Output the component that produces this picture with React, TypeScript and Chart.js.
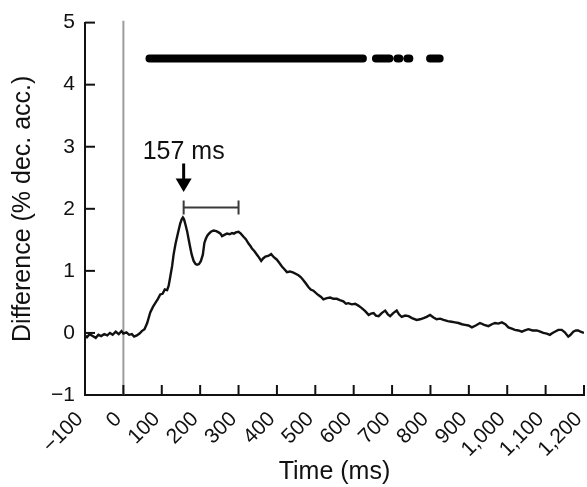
import { useEffect, useRef } from "react";
import { Chart, registerables } from "chart.js";

Chart.register(...registerables);

// ---- data ----
const TIMES = [
  -100, -95, -88, -80, -72, -65, -58, -50, -42, -35, -28, -20, -12, -5, 0, 8, 15, 22, 28, 35, 42, 48, 55, 62, 70,
  77, 83, 90, 96, 102, 108, 114, 118, 122, 127, 131, 136, 140, 144, 148, 152, 155, 158, 162, 166, 170, 174, 178,
  183, 188, 192, 197, 202, 207, 211, 215, 219, 223, 228, 235, 242, 248, 253, 257, 263, 270, 277, 283, 288, 293,
  300, 306, 313, 319, 326, 331, 335, 341, 348, 354, 359, 364, 370, 377, 385, 392, 400, 406, 413, 419, 426, 434,
  443, 450, 456, 462, 469, 475, 482, 488, 495, 502, 508, 515, 521, 530, 539, 547, 556, 564, 573, 580, 586, 595,
  604, 612, 621, 630, 639, 645, 652, 658, 665, 673, 682, 689, 695, 703, 712, 718, 725, 734, 743, 752, 764, 773,
  782, 790, 799, 808, 816, 825, 834, 845, 855, 864, 873, 882, 890, 899, 908, 918, 929, 940, 951, 960, 968, 977,
  986, 995, 1003, 1012, 1020, 1029, 1038, 1046, 1055, 1066, 1077, 1086, 1094, 1103, 1111, 1118, 1124, 1133, 1142,
  1150, 1159, 1165, 1172, 1179, 1185, 1191, 1196, 1200,
];

const DIFFERENCE = [
  -0.04, -0.07, -0.02, -0.05, -0.08, -0.03, -0.05, -0.02, -0.04, 0.0, -0.03, 0.02, -0.02, 0.03, -0.01, 0.01, -0.03,
  -0.02, -0.06, -0.04, -0.01, 0.03, 0.06, 0.16, 0.33, 0.42, 0.48, 0.55, 0.62, 0.63, 0.7, 0.69, 0.76, 0.9, 1.08,
  1.27, 1.44, 1.55, 1.66, 1.76, 1.83, 1.86, 1.83, 1.74, 1.64, 1.51, 1.38, 1.26, 1.16, 1.11, 1.1, 1.11, 1.16, 1.26,
  1.45, 1.52, 1.57, 1.6, 1.63, 1.65, 1.64, 1.62, 1.6, 1.56, 1.58, 1.6, 1.59, 1.61, 1.6, 1.62, 1.63, 1.6, 1.55,
  1.51, 1.44, 1.4, 1.36, 1.32, 1.26, 1.21, 1.16, 1.2, 1.23, 1.24, 1.27, 1.22, 1.18, 1.13, 1.07, 1.03, 0.98, 0.99,
  0.97, 0.95, 0.93, 0.9, 0.85, 0.8, 0.74, 0.7, 0.68, 0.64, 0.61, 0.58, 0.54, 0.56, 0.57, 0.55, 0.55, 0.53, 0.51,
  0.47, 0.48, 0.46, 0.47, 0.44, 0.4, 0.35, 0.29, 0.31, 0.32, 0.28, 0.27, 0.32, 0.36, 0.3, 0.27, 0.32, 0.36, 0.3,
  0.26, 0.28, 0.27, 0.24, 0.21, 0.22, 0.24, 0.26, 0.29, 0.25, 0.22, 0.23, 0.21, 0.19, 0.18, 0.17, 0.16, 0.14, 0.13,
  0.12, 0.09, 0.12, 0.16, 0.13, 0.11, 0.14, 0.16, 0.15, 0.17, 0.14, 0.09, 0.07, 0.05, 0.04, 0.02, 0.04, 0.06, 0.04,
  0.04, 0.02, 0.0, -0.01, -0.03, 0.0, 0.02, 0.05, 0.05, 0.01, -0.06, -0.03, 0.02, 0.04, 0.04, 0.02, 0.01, 0.0,
];

const X_TICKS = [-100, 0, 100, 200, 300, 400, 500, 600, 700, 800, 900, 1000, 1100, 1200];
const X_TICK_LABELS = ["−100", "0", "100", "200", "300", "400", "500", "600", "700", "800", "900", "1,000", "1,100", "1,200"];
const Y_TICKS = [-1, 0, 1, 2, 3, 4, 5];
const Y_TICK_LABELS = ["−1", "0", "1", "2", "3", "4", "5"];

// significant time runs (ms) shown as the thick bar near the top
const SIG_RUN_STARTS = [68, 658, 714, 740, 799];
const SIG_RUN_ENDS = [624, 693, 719, 745, 824];
const SIG_LEVEL = 4.42;

const ONSET_TIME = 0;
const PEAK_TIME = 157;
const PEAK_LABEL = "157 ms";
const WINDOW_START = 157;
const WINDOW_END = 300;
const WINDOW_LEVEL = 2.02;
const LABEL_LEVEL = 2.8;
const ARROW_TOP = 2.73;
const ARROW_BASE = 2.49;
const ARROW_TIP = 2.27;

const X_TITLE = "Time (ms)";
const Y_TITLE = "Difference (% dec. acc.)";

const FONT = "'Liberation Sans', Arial, Helvetica, sans-serif";

export default function App() {
  const ref = useRef<HTMLCanvasElement | null>(null);

  useEffect(() => {
    const canvas = ref.current;
    if (!canvas) return;

    const curve = TIMES.map((t, i) => ({ x: t, y: DIFFERENCE[i] }));
    const sig: { x: number; y: number | null }[] = [];
    SIG_RUN_STARTS.forEach((s, i) => {
      sig.push({ x: s, y: SIG_LEVEL });
      sig.push({ x: SIG_RUN_ENDS[i], y: SIG_LEVEL });
      sig.push({ x: SIG_RUN_ENDS[i] + 1, y: null });
    });

    const annotations = {
      id: "annotations",
      afterDatasetsDraw(chart: any) {
        const { ctx } = chart;
        const xs = chart.scales.x;
        const ys = chart.scales.y;
        ctx.save();
        // inward tick marks
        ctx.strokeStyle = "#111";
        ctx.lineWidth = 2;
        X_TICKS.forEach((v) => {
          const px = xs.getPixelForValue(v);
          ctx.beginPath();
          ctx.moveTo(px, ys.bottom);
          ctx.lineTo(px, ys.bottom - 10);
          ctx.stroke();
        });
        Y_TICKS.forEach((v) => {
          const py = ys.getPixelForValue(v);
          ctx.beginPath();
          ctx.moveTo(xs.left, py);
          ctx.lineTo(xs.left + 10, py);
          ctx.stroke();
        });

        // window bracket
        const bx1 = xs.getPixelForValue(WINDOW_START);
        const bx2 = xs.getPixelForValue(WINDOW_END);
        const by = ys.getPixelForValue(WINDOW_LEVEL);
        ctx.strokeStyle = "#3a3a3a";
        ctx.lineWidth = 2;
        ctx.beginPath();
        ctx.moveTo(bx1, by);
        ctx.lineTo(bx2, by);
        ctx.moveTo(bx1, by - 7);
        ctx.lineTo(bx1, by + 7);
        ctx.moveTo(bx2, by - 7);
        ctx.lineTo(bx2, by + 7);
        ctx.stroke();

        // arrow
        const ax = xs.getPixelForValue(PEAK_TIME);
        const aTop = ys.getPixelForValue(ARROW_TOP);
        const aBase = ys.getPixelForValue(ARROW_BASE);
        const aTip = ys.getPixelForValue(ARROW_TIP);
        ctx.strokeStyle = "#000";
        ctx.lineWidth = 3;
        ctx.beginPath();
        ctx.moveTo(ax, aTop);
        ctx.lineTo(ax, aBase + 1);
        ctx.stroke();
        ctx.fillStyle = "#000";
        ctx.beginPath();
        ctx.moveTo(ax - 8, aBase);
        ctx.lineTo(ax + 8, aBase);
        ctx.lineTo(ax, aTip);
        ctx.closePath();
        ctx.fill();

        // label
        ctx.font = `25px ${FONT}`;
        ctx.fillStyle = "#111";
        ctx.textAlign = "center";
        ctx.textBaseline = "alphabetic";
        ctx.fillText(PEAK_LABEL, ax, ys.getPixelForValue(LABEL_LEVEL));
        ctx.restore();
      },
    };

    const chart = new Chart(canvas, {
      type: "line",
      data: {
        datasets: [
          { data: curve, borderColor: "#111", borderWidth: 2.4, pointRadius: 0, tension: 0, order: 1 },
          {
            data: sig,
            borderColor: "#000",
            borderWidth: 8,
            borderCapStyle: "round",
            pointRadius: 0,
            spanGaps: false,
            tension: 0,
            order: 2,
          },
          {
            data: [
              { x: ONSET_TIME, y: -1 },
              { x: ONSET_TIME, y: 5.03 },
            ],
            borderColor: "#9c9c9c",
            borderWidth: 2,
            pointRadius: 0,
            clip: false,
            order: 3,
          },
        ] as any,
      },
      options: {
        animation: false,
        responsive: false,
        events: [],
        layout: { padding: { top: 22, right: 3, left: 0, bottom: 0 } },
        plugins: { legend: { display: false }, tooltip: { enabled: false } },
        scales: {
          x: {
            type: "linear",
            min: -100,
            max: 1200,
            afterBuildTicks: (scale: any) => {
              scale.ticks = X_TICKS.map((v) => ({ value: v }));
            },
            afterFit: (scale: any) => {
              scale.height = 92;
              scale.paddingLeft = 0;
              scale.paddingRight = 0;
            },
            grid: { display: true, drawOnChartArea: false, drawTicks: false },
            border: { display: true, color: "#111", width: 2 },
            ticks: {
              autoSkip: false,
              minRotation: 45,
              maxRotation: 45,
              padding: 12,
              labelOffset: -5,
              color: "#111",
              font: { family: FONT, size: 21 },
              callback: (_v: any, i: number) => X_TICK_LABELS[i],
            },
            title: {
              display: true,
              text: X_TITLE,
              color: "#111",
              font: { family: FONT, size: 25 },
              padding: { top: 0, bottom: 0 },
            },
          },
          y: {
            type: "linear",
            min: -1,
            max: 5,
            afterBuildTicks: (scale: any) => {
              scale.ticks = Y_TICKS.map((v) => ({ value: v }));
            },
            afterFit: (scale: any) => {
              scale.width = 85;
            },
            grid: { display: true, drawOnChartArea: false, drawTicks: false },
            border: { display: true, color: "#111", width: 2 },
            ticks: {
              padding: 10,
              color: "#111",
              font: { family: FONT, size: 21 },
              callback: (_v: any, i: number) => Y_TICK_LABELS[i],
            },
            title: {
              display: true,
              text: Y_TITLE,
              color: "#111",
              font: { family: FONT, size: 25 },
              padding: { top: 8, bottom: 0 },
            },
          },
        },
      },
      plugins: [annotations],
    });

    return () => chart.destroy();
  }, []);

  return (
    <div style={{ position: "absolute", left: 0, top: 0, width: 587, height: 487, background: "#fff" }}>
      <canvas ref={ref} width={587} height={487} />
    </div>
  );
}
